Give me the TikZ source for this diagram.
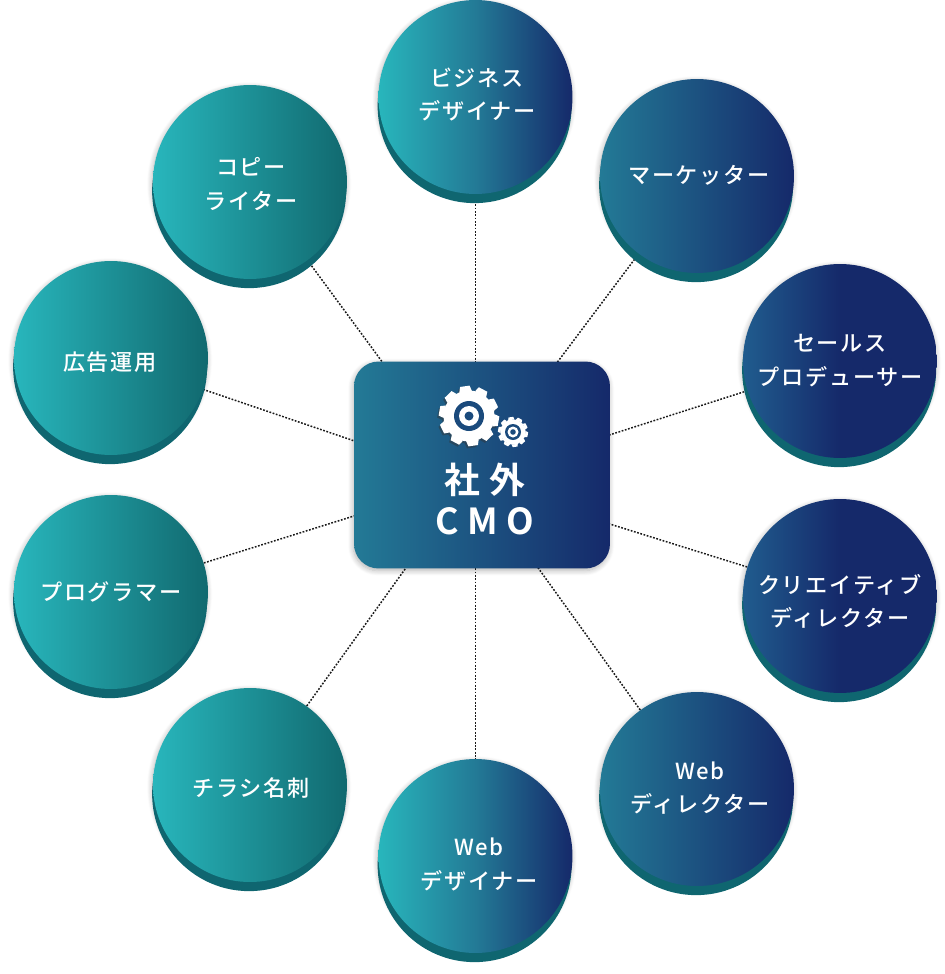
\documentclass[tikz,border=0pt]{standalone}
\usepackage{fontspec}
\setmainfont{Noto Sans CJK JP}
\newfontfamily\labelfont[LetterSpace=8]{Noto Sans CJK JP Medium}
\newfontfamily\titlefont[LetterSpace=24]{Noto Sans CJK JP Bold}
\usetikzlibrary{shadows,shadows.blur,backgrounds}

\definecolor{basecol}{HTML}{0F6670}
\definecolor{tealL}{HTML}{28B6BC}
\definecolor{tealR}{HTML}{11696F}
\definecolor{midblue}{HTML}{237A96}
\definecolor{navy}{HTML}{15296A}
\definecolor{steel}{HTML}{205C8E}
\definecolor{gearhole}{HTML}{1A4A7C}

\pgfdeclarehorizontalshading{tealshade}{100bp}{color(0bp)=(tealL); color(25bp)=(tealL); color(75bp)=(tealR); color(100bp)=(tealR)}
\pgfdeclarehorizontalshading{fullshade}{100bp}{color(0bp)=(tealL); color(25bp)=(tealL); color(50bp)=(midblue); color(75bp)=(navy); color(100bp)=(navy)}
\pgfdeclarehorizontalshading{blueshade}{100bp}{color(0bp)=(midblue); color(25bp)=(midblue); color(75bp)=(navy); color(100bp)=(navy)}
\pgfdeclarehorizontalshading{navyshade}{100bp}{color(0bp)=(steel); color(25bp)=(steel); color(50bp)=(navy); color(100bp)=(navy)}

\tikzset{
  softshadow/.style={blur shadow={shadow blur steps=8,shadow blur radius=3pt,shadow xshift=-0.5pt,shadow yshift=-1.2pt,shadow opacity=30}},
  role/.style={circle,minimum size=3.88cm,inner sep=0pt,softshadow,
    general shadow={fill=basecol,shadow yshift=-5.2pt}},
  rolelabel/.style={text=white,align=center,inner sep=0pt,font=\fontsize{12.6}{18.9}\selectfont\labelfont},
  link/.style={dash pattern=on 1pt off 0.9pt,line width=0.85pt,black!90},
  hubbox/.style={rectangle,rounded corners=14pt,minimum width=5.12cm,minimum height=4.14cm,inner sep=0pt,softshadow,shading=blueshade},
  gear/.pic={
    \foreach \a in {0,36,...,324}
      \fill[rotate=\a+8,pic actions] (-0.21,-0.82) -- (-0.16,-1) -- (0.16,-1) -- (0.21,-0.82) -- cycle;
    \fill[pic actions] (0,0) circle (0.85);
  },
}

\begin{document}
\begin{tikzpicture}[x=0.02cm,y=-0.02cm]
  \useasboundingbox (0,0) rectangle (944,974);
  \node[role,shading=fullshade] (biz) at (475.5,97) {};
  \node[role,shading=blueshade] (marketer) at (697,176) {};
  \node[role,shading=navyshade] (sales) at (840,361) {};
  \node[role,shading=navyshade] (creative) at (840,596) {};
  \node[role,shading=blueshade] (webdir) at (697,789) {};
  \node[role,shading=fullshade] (webdes) at (475.5,856) {};
  \node[role,shading=tealshade] (flyer) at (250,785) {};
  \node[role,shading=tealshade] (coder) at (111,592) {};
  \node[role,shading=tealshade] (ads) at (111,358) {};
  \node[role,shading=tealshade] (copy) at (250,182) {};

  \node[rolelabel] (bizlabel) at (477,94.5) {ビジネス\\デザイナー};
  \node[rolelabel] (marketerlabel) at (699,175) {マーケッター};
  \node[rolelabel] (saleslabel) at (840,360.5) {セールス\\プロデューサー};
  \node[rolelabel] (creativelabel) at (840,601) {クリエイティブ\\ディレクター};
  \node[rolelabel] (webdirlabel) at (700,788) {Web\\ディレクター};
  \node[rolelabel] (webdeslabel) at (479,864.5) {Web\\デザイナー};
  \node[rolelabel] (flyerlabel) at (251,788) {チラシ名刺};
  \node[rolelabel] (coderlabel) at (111,592) {プログラマー};
  \node[rolelabel] (adslabel) at (110,362) {広告運用};
  \node[rolelabel] (copylabel) at (251,184) {コピー\\ライター};

  \node[hubbox] (cmo) at (482,465) {};
  \node[text=white,align=center,font=\fontsize{20.4}{22.8}\selectfont\titlefont] (cmolabel) at (485,499) {社外\\CMO};

  % gears
  \pic[fill=black!80,opacity=0.45,scale=30] at (467.5,418) {gear};
  \pic[fill=white,scale=30] (biggear) at (469,416) {gear};
  \fill[gearhole] (469,416) circle (15);
  \fill[white] (469,416) circle (10);
  \fill[gearhole] (469,416) circle (4.5);
  \pic[fill=white,scale=15] (smallgear) at (513,432) {gear};
  \fill[gearhole] (513,432) circle (8);
  \fill[white] (513,432) circle (5.5);
  \fill[gearhole] (513,432) circle (2.8);

  \coordinate (hub) at (469,480);
  \coordinate (hubright) at (475,480);
  \begin{scope}[on background layer]
    \draw[link] (biz) -- (webdes);
    \foreach \n in {sales,creative,coder,ads,copy,flyer,marketer}
      \draw[link] (\n) -- (hub);
    \draw[link] (webdir) -- (hubright);
  \end{scope}
\end{tikzpicture}
\end{document}
